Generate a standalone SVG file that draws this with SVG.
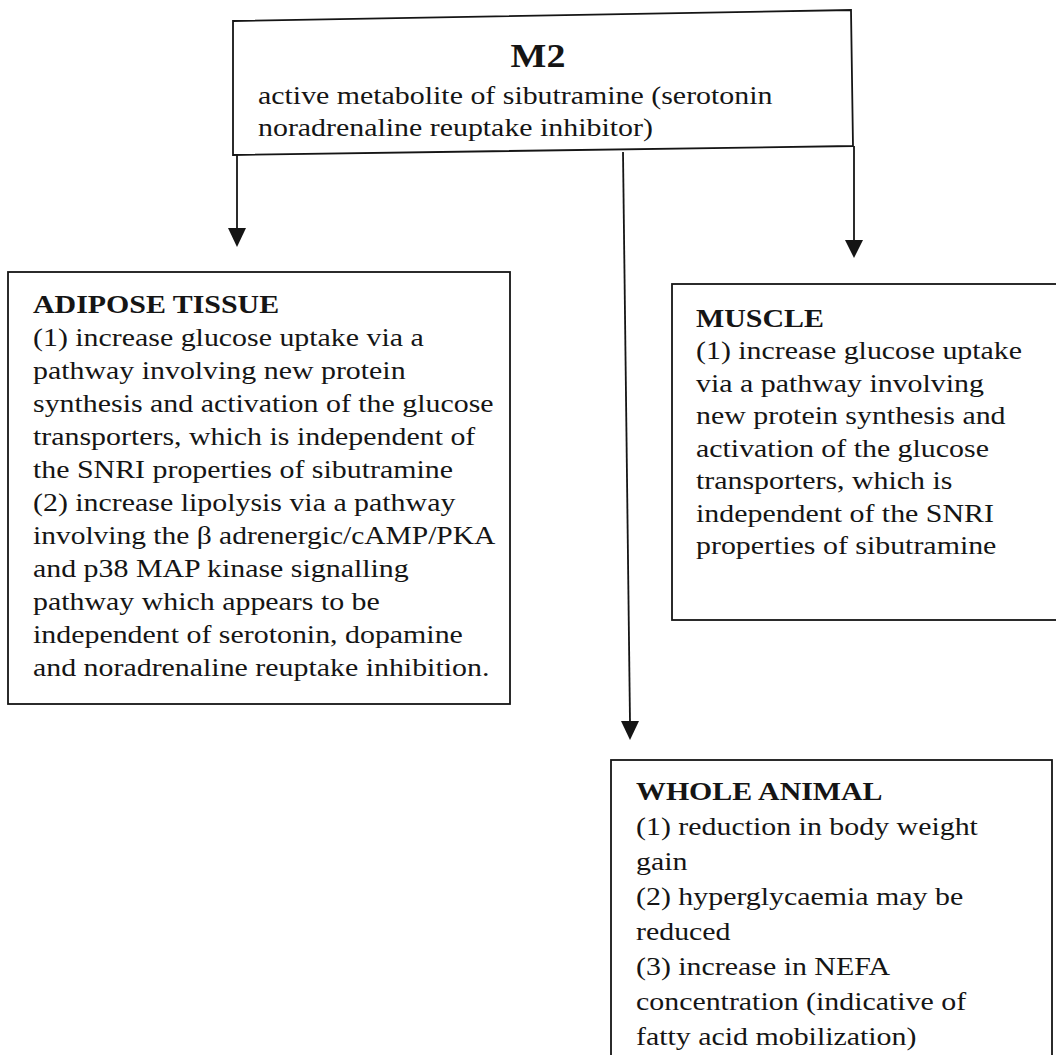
<svg xmlns="http://www.w3.org/2000/svg" width="1056" height="1055" viewBox="0 0 1056 1055">
<style>
.box{fill:#fff;stroke:#151515;stroke-width:1.8}
.t{font-family:"Liberation Serif","Times New Roman",serif;fill:#151515;font-size:26px}
.b{font-weight:bold}
.conn line{stroke:#151515;stroke-width:1.8}
.conn path{fill:#151515}
</style>
<rect width="1056" height="1055" fill="#fff"/>
<g id="conn" class="conn">
<line x1="237" y1="155" x2="237" y2="229"/>
<path d="M228,228 L246,228 L237,247 Z"/>
<line x1="623" y1="152" x2="630" y2="722"/>
<path d="M621,721 L639,721 L630,740 Z"/>
<line x1="854" y1="146" x2="854" y2="241"/>
<path d="M845,240 L863,240 L854,258 Z"/>
</g>
<g id="m2">
<path class="box" d="M233,21 L851,10 L853,146 L233,155 Z"/>
<g transform="translate(538 0) scale(1.15 1)">
<text class="t b" x="0" y="67" style="font-size:33px" text-anchor="middle">M2</text>
</g>
<g class="t" transform="translate(258 0) scale(1.15 1)">
<text x="0" y="104">active metabolite of sibutramine (serotonin</text>
<text x="0" y="136">noradrenaline reuptake inhibitor)</text>
</g>
</g>
<g id="adipose">
<rect class="box" x="8" y="272" width="502" height="432"/>
<g class="t" transform="translate(33 0) scale(1.15 1)">
<text class="b" x="0" y="313">ADIPOSE TISSUE</text>
<text x="0" y="346">(1) increase glucose uptake via a</text>
<text x="0" y="379">pathway involving new protein</text>
<text x="0" y="412">synthesis and activation of the glucose</text>
<text x="0" y="445">transporters, which is independent of</text>
<text x="0" y="478">the SNRI properties of sibutramine</text>
<text x="0" y="511">(2) increase lipolysis via a pathway</text>
<text x="0" y="544" textLength="402" lengthAdjust="spacingAndGlyphs">involving the β adrenergic/cAMP/PKA</text>
<text x="0" y="577">and p38 MAP kinase signalling</text>
<text x="0" y="610">pathway which appears to be</text>
<text x="0" y="643">independent of serotonin, dopamine</text>
<text x="0" y="676">and noradrenaline reuptake inhibition.</text>
</g>
</g>
<g id="muscle">
<rect class="box" x="672" y="284" width="400" height="336"/>
<g class="t" transform="translate(696 0) scale(1.15 1)">
<text class="b" x="0" y="327">MUSCLE</text>
<text x="0" y="359.5">(1) increase glucose uptake</text>
<text x="0" y="392">via a pathway involving</text>
<text x="0" y="424.5">new protein synthesis and</text>
<text x="0" y="457">activation of the glucose</text>
<text x="0" y="489.5">transporters, which is</text>
<text x="0" y="522">independent of the SNRI</text>
<text x="0" y="554.5">properties of sibutramine</text>
</g>
</g>
<g id="whole">
<rect class="box" x="611" y="760" width="441" height="310"/>
<g class="t" transform="translate(636 0) scale(1.15 1)">
<text class="b" x="0" y="800">WHOLE ANIMAL</text>
<text x="0" y="835">(1) reduction in body weight</text>
<text x="0" y="870">gain</text>
<text x="0" y="905">(2) hyperglycaemia may be</text>
<text x="0" y="940">reduced</text>
<text x="0" y="975">(3) increase in NEFA</text>
<text x="0" y="1010">concentration (indicative of</text>
<text x="0" y="1045">fatty acid mobilization)</text>
</g>
</g>
</svg>
